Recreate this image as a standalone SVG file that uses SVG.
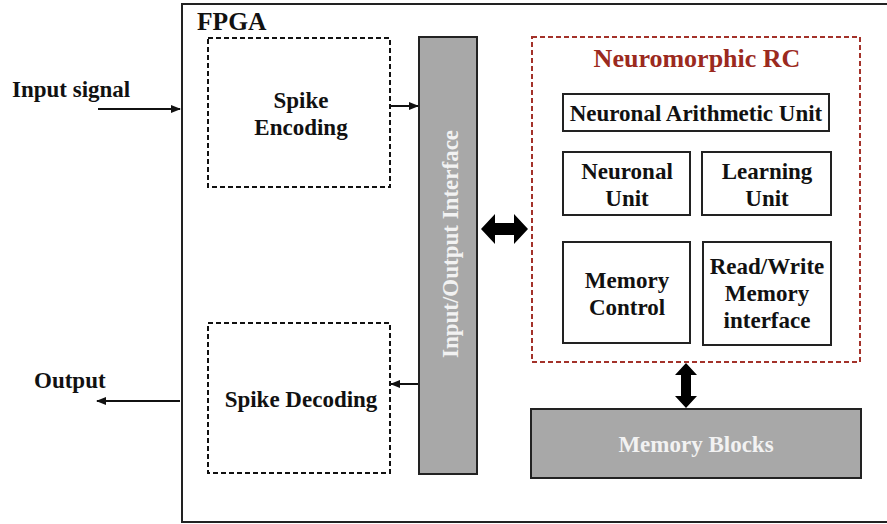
<svg xmlns="http://www.w3.org/2000/svg" width="887" height="524" viewBox="0 0 887 524">
<style>
text{font-family:"Liberation Serif","Times New Roman",serif;font-weight:bold;fill:#111;text-anchor:middle;font-size:23px}
.dash{fill:none;stroke:#111;stroke-width:2;stroke-dasharray:5,3}
.red{fill:none;stroke:#a3322a;stroke-width:2;stroke-dasharray:5,3}
.box{fill:#fff;stroke:#222;stroke-width:2}
.gray{fill:#a8a8a8;stroke:#222;stroke-width:2}
.wt{fill:#f2f2f2}
.ln{stroke:#111;stroke-width:2;fill:none}
</style>
<defs>
<marker id="ah" viewBox="0 0 10 10" refX="9" refY="5" markerWidth="5" markerHeight="5" orient="auto-start-reverse" markerUnits="strokeWidth">
<path d="M0,1 L10,5 L0,9 z" fill="#111"/>
</marker>
</defs>
<g id="fpga">
<rect x="182" y="4" width="720" height="518" fill="none" stroke="#222" stroke-width="2"/>
<text x="197" y="30" style="text-anchor:start;font-size:25.5px">FPGA</text>
</g>
<g id="input-label"><text x="12" y="97" style="text-anchor:start">Input signal</text></g>
<g id="output-label"><text x="34" y="388" style="text-anchor:start">Output</text></g>
<g id="spike-encoding">
<rect class="dash" x="208" y="38" width="182" height="149"/>
<text x="301" y="108">Spike</text>
<text x="301" y="135">Encoding</text>
</g>
<g id="spike-decoding">
<rect class="dash" x="208" y="323" width="182" height="150"/>
<text x="301" y="407">Spike Decoding</text>
</g>
<g id="io-interface">
<rect class="gray" x="419" y="37" width="58" height="437"/>
<text class="wt" transform="translate(458,244) rotate(-90)">Input/Output Interface</text>
</g>
<g id="neuromorphic-rc">
<rect class="red" x="532" y="37" width="328" height="325"/>
<text x="697" y="67" style="fill:#9b2a1e;font-size:26px">Neuromorphic RC</text>
</g>
<g id="neuronal-arithmetic-unit">
<rect class="box" x="563" y="94" width="266" height="37"/>
<text x="696" y="121">Neuronal Arithmetic Unit</text>
</g>
<g id="neuronal-unit">
<rect class="box" x="563" y="152" width="127" height="63"/>
<text x="627" y="179">Neuronal</text>
<text x="627" y="206">Unit</text>
</g>
<g id="learning-unit">
<rect class="box" x="702" y="152" width="129" height="63"/>
<text x="767" y="179">Learning</text>
<text x="767" y="206">Unit</text>
</g>
<g id="memory-control">
<rect class="box" x="563" y="242" width="127" height="101"/>
<text x="627" y="288">Memory</text>
<text x="627" y="315">Control</text>
</g>
<g id="rw-memory-interface">
<rect class="box" x="703" y="242" width="128" height="103"/>
<text x="767" y="274">Read/Write</text>
<text x="767" y="301">Memory</text>
<text x="767" y="328">interface</text>
</g>
<g id="memory-blocks">
<rect class="gray" x="531" y="409" width="330" height="69"/>
<text class="wt" x="696" y="452">Memory Blocks</text>
</g>
<g id="connectors">
<line class="ln" x1="98" y1="109" x2="180" y2="109" marker-end="url(#ah)"/>
<line class="ln" x1="390" y1="106" x2="418" y2="106" marker-end="url(#ah)"/>
<line class="ln" x1="418" y1="384" x2="391" y2="384" marker-end="url(#ah)"/>
<line class="ln" x1="180" y1="401" x2="97" y2="401" marker-end="url(#ah)"/>
<path d="M481,229 L495,214 L495,223 L514,223 L514,214 L528,229 L514,244 L514,235 L495,235 L495,244 Z" fill="#000"/>
<path d="M686,363 L697,375 L691,375 L691,396 L697,396 L686,408 L675,396 L681,396 L681,375 L675,375 Z" fill="#000"/>
</g>
</svg>
